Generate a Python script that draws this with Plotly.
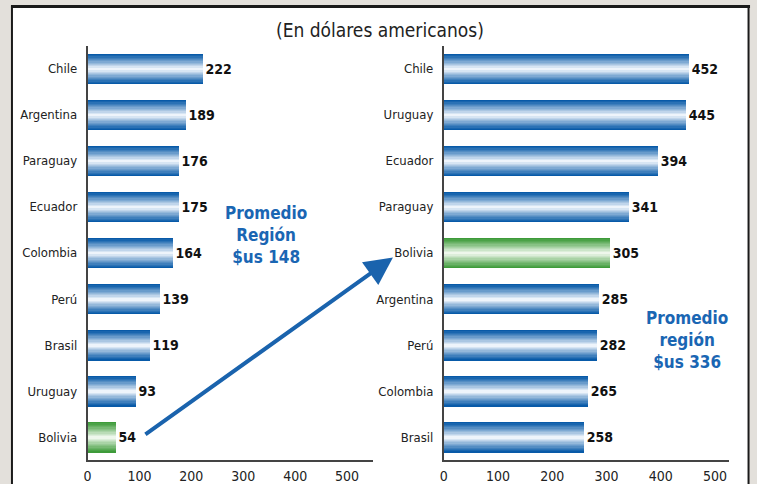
import plotly.graph_objects as go

# ---- data ----
left_countries = ["Chile", "Argentina", "Paraguay", "Ecuador", "Colombia", "Perú", "Brasil", "Uruguay", "Bolivia"]
left_values = [222, 189, 176, 175, 164, 139, 119, 93, 54]
right_countries = ["Chile", "Uruguay", "Ecuador", "Paraguay", "Bolivia", "Argentina", "Perú", "Colombia", "Brasil"]
right_values = [452, 445, 394, 341, 305, 285, 282, 265, 258]
tick_vals = [0, 100, 200, 300, 400, 500]
title_text = "(En dólares americanos)"
left_note = "Promedio<br>Región<br>$us 148"
right_note = "Promedio<br>región<br>$us 336"
highlight = "Bolivia"

W, H = 757, 484
FONT = "DejaVu Sans Condensed, Liberation Sans Narrow, sans-serif"

BLUE_EDGE = (8, 90, 168)
BLUE_MID = (238, 244, 251)
GREEN_EDGE = (62, 155, 58)
GREEN_MID = (238, 247, 236)
N_LAYERS = 12
BAR_W = 0.66


def mix(a, b, t):
    return "rgb(%d,%d,%d)" % tuple(round(a[i] + (b[i] - a[i]) * t) for i in range(3))


def px_x(p):
    return p / W


def px_y(p):
    return 1 - p / H


fig = go.Figure()


def add_panel(cats, vals, xa, ya):
    for k in range(N_LAYERS):
        t = k / (N_LAYERS - 1)
        width = BAR_W * (1 - k / N_LAYERS)
        tt = t ** 1.1
        colors = [mix(GREEN_EDGE, GREEN_MID, tt) if c == highlight else mix(BLUE_EDGE, BLUE_MID, tt) for c in cats]
        fig.add_trace(go.Bar(
            y=cats, x=vals, orientation="h",
            width=[width] * len(cats),
            marker=dict(color=colors, line=dict(width=0)),
            xaxis=xa, yaxis=ya, showlegend=False, hoverinfo="skip" if k else "x+y",
            text=[str(v) for v in vals] if k == 0 else None,
            texttemplate="<b>%{text}</b>" if k == 0 else None,
            textposition="outside" if k == 0 else "none",
            textfont=dict(family=FONT, size=14, color="#111111"),
            cliponaxis=False,
        ))


add_panel(left_countries, left_values, "x", "y")
add_panel(right_countries, right_values, "x2", "y2")

ydom = [px_y(463), px_y(46)]
axis_common = dict(
    showgrid=False, zeroline=False, showline=True, linecolor="#444444", linewidth=1.5,
    ticks="", tickfont=dict(family=FONT, size=14, color="#222222"),
)
yaxis_common = {**axis_common, "tickfont": dict(family=FONT, size=13, color="#222222")}

fig.update_layout(
    width=W, height=H,
    margin=dict(l=0, r=0, t=0, b=0),
    paper_bgcolor="#e3e0db",
    plot_bgcolor="rgba(0,0,0,0)",
    barmode="overlay",
    bargap=0,
    xaxis=dict(domain=[px_x(84), px_x(371)], range=[0, 550], tickvals=tick_vals,
               anchor="y", ticklabelstandoff=2, **axis_common),
    yaxis=dict(domain=ydom, categoryorder="array", categoryarray=left_countries[::-1],
               range=[-0.5, 8.5], anchor="x", ticklabelstandoff=6, **yaxis_common),
    xaxis2=dict(domain=[px_x(442), px_x(729)], range=[0, 526], tickvals=tick_vals,
                anchor="y2", ticklabelstandoff=2, **axis_common),
    yaxis2=dict(domain=ydom, categoryorder="array", categoryarray=right_countries[::-1],
                range=[-0.5, 8.5], anchor="x2", ticklabelstandoff=6, **yaxis_common),
    shapes=[
        dict(type="rect", xref="paper", yref="paper", x0=px_x(8), x1=px_x(749), y0=-0.01, y1=px_y(6),
             fillcolor="white", line=dict(width=0), layer="below"),
        dict(type="line", xref="paper", yref="paper", x0=px_x(7), x1=px_x(750), y0=px_y(6.5), y1=px_y(6.5),
             line=dict(color="#1a1a1a", width=3), layer="below"),
        dict(type="line", xref="paper", yref="paper", x0=px_x(8), x1=px_x(8), y0=-0.01, y1=px_y(6),
             line=dict(color="#1a1a1a", width=2), layer="below"),
        dict(type="line", xref="paper", yref="paper", x0=px_x(748.5), x1=px_x(748.5), y0=-0.01, y1=px_y(6),
             line=dict(color="#1a1a1a", width=2), layer="below"),
    ],
    annotations=[
        dict(text=title_text, xref="paper", yref="paper", x=px_x(378), y=px_y(30),
             showarrow=False, font=dict(family=FONT, size=19, color="#222222"),
             xanchor="center", yanchor="middle"),
        dict(text="<b>" + left_note + "</b>", xref="paper", yref="paper", x=px_x(263), y=px_y(236),
             showarrow=False, font=dict(family=FONT, size=17, color="#1a66b3"),
             xanchor="center", yanchor="middle", align="center"),
        dict(text="<b>" + right_note + "</b>", xref="paper", yref="paper", x=px_x(687), y=px_y(342),
             showarrow=False, font=dict(family=FONT, size=17, color="#1a66b3"),
             xanchor="center", yanchor="middle", align="center"),
        dict(text="", xref="paper", yref="paper", x=px_x(391), y=px_y(259),
             ax=142 - 391, ay=437 - 259, showarrow=True,
             arrowhead=2, arrowsize=1.4, arrowwidth=4, arrowcolor="#1a63ad"),
    ],
)

fig.write_html("out.html", config={"displayModeBar": False},
               post_script="document.body.style.margin='0';document.body.style.overflow='hidden';")
